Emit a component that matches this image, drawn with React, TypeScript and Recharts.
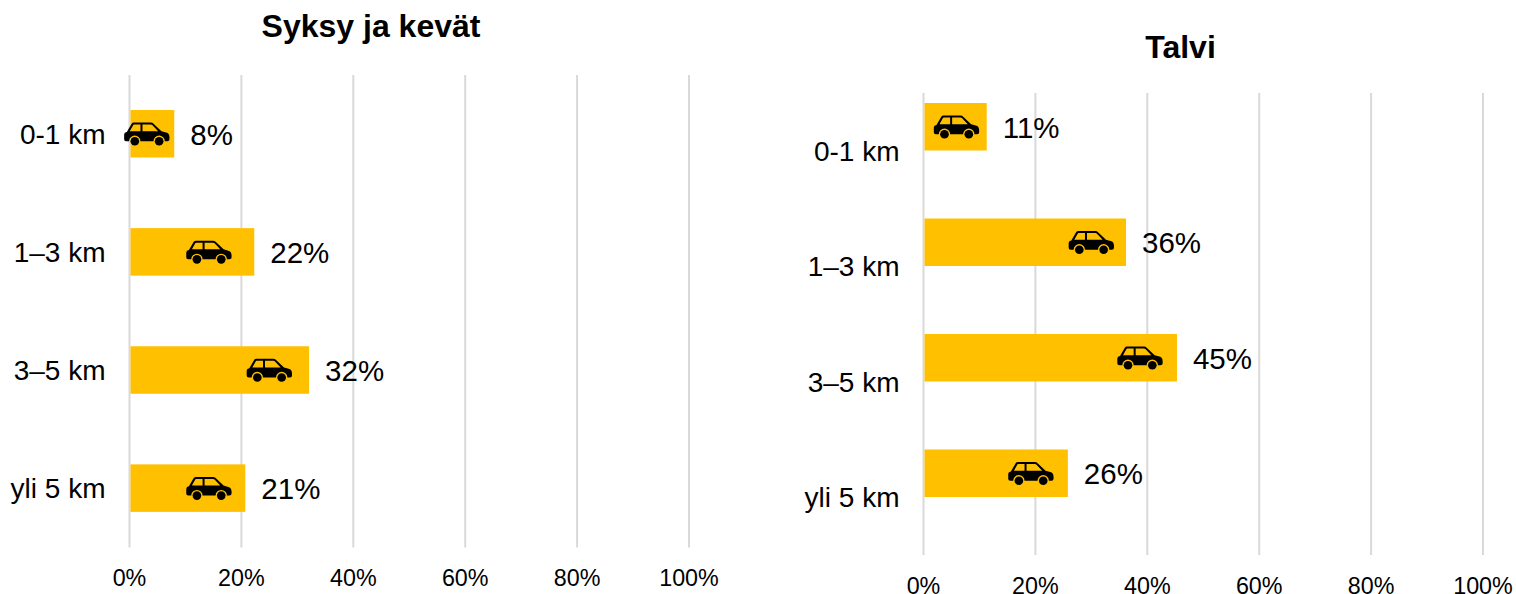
import { BarChart, Bar, XAxis, YAxis, CartesianGrid, LabelList } from "recharts";

const distances = ["0-1 km", "1–3 km", "3–5 km", "yli 5 km"];
const percentTicks = [0, 20, 40, 60, 80, 100];

const autumnSpringShare = [8, 22.3, 32.1, 20.7];
const autumnSpringCar = [3.1, 14.2, 25, 14.2];
const winterShare = [11.3, 36.2, 45.3, 25.8];
const winterCar = [5.9, 30, 38.7, 19.2];

const FONT = "'Liberation Sans', Arial, sans-serif";
const BAR_HEIGHT = 47.5;

const toRows = (share: number[], car: number[]) =>
  distances.map((name, i) => ({ name, share: share[i], car: car[i] }));

// car silhouette, drawn in a 136x67 box; the windows and wheel arches are holes
const CAR_BODY =
  "M8 28 L22 4 Q24 0 30 0 L80 0 Q85 0 89 4 L112 26 L126 30 Q136 32 136 44 L136 50 Q136 56 130 56 L122 56 A17 17 0 0 0 88 56 L49 56 A17 17 0 0 0 15 56 L6 56 Q0 56 0 50 L0 36 Q0 29 8 28 Z " +
  "M17 26 L27 8 Q28 6 30 6 L49 6 L49 26 Z M55 6 L80 6 Q83 6 85 8 L102 26 L55 26 Z";

function CarIcon({ cx, cy }: { cx: number; cy: number }) {
  return (
    <g transform={`translate(${cx - 22.7} ${cy - 11.2}) scale(0.3333)`} fill="#000">
      <path d={CAR_BODY} fillRule="evenodd" />
      <circle cx={32} cy={56} r={13} />
      <circle cx={105} cy={56} r={13} />
    </g>
  );
}

function DistanceChart({
  title,
  rows,
  left,
  plotLeft,
  plotTop,
  plotBottom,
  barShift,
  titleTop,
  titleCenter,
}: {
  title: string;
  rows: { name: string; share: number; car: number }[];
  left: number;
  plotLeft: number;
  plotTop: number;
  plotBottom: number;
  barShift: number;
  titleTop: number;
  titleCenter: number;
}) {
  const width = 758;
  const height = 594;
  const plotWidth = 559.5;

  return (
    <div style={{ position: "absolute", left, top: 0, width, height }}>
      <div
        style={{
          position: "absolute",
          left: titleCenter - 200,
          width: 400,
          top: titleTop,
          textAlign: "center",
          fontFamily: FONT,
          fontWeight: 700,
          fontSize: 32,
          lineHeight: "36px",
          color: "#000",
        }}
      >
        {title}
      </div>
      <BarChart
        width={width}
        height={height}
        data={rows}
        layout="vertical"
        barSize={BAR_HEIGHT}
        barGap={-BAR_HEIGHT}
        margin={{ top: plotTop, bottom: 0, left: 0, right: width - plotLeft - plotWidth }}
      >
        <CartesianGrid horizontal={false} stroke="#d9d9d9" strokeWidth={2} />
        <XAxis
          type="number"
          domain={[0, 100]}
          ticks={percentTicks}
          tickFormatter={(v: number) => `${v}%`}
          height={height - plotBottom}
          axisLine={false}
          tickLine={false}
          tickMargin={16}
          interval={0}
          tick={{ fill: "#000", fontSize: 23.3, fontFamily: FONT }}
        />
        <YAxis
          type="category"
          dataKey="name"
          width={plotLeft}
          axisLine={false}
          tickLine={false}
          tickSize={0}
          tickMargin={24}
          tick={{ fill: "#000", fontSize: 28, fontFamily: FONT }}
        />
        <Bar
          dataKey="share"
          isAnimationActive={false}
          shape={(p: any) => (
            <rect x={p.x + 1} y={p.y + barShift} width={p.width - 1} height={p.height} fill="#FFC000" />
          )}
        >
          <LabelList
            dataKey="share"
            content={(p: any) => (
              <text
                x={p.x + p.width + 16}
                y={p.y + p.height / 2 + barShift + 0.5}
                dominantBaseline="central"
                fill="#000"
                fontSize={29.5}
                fontFamily={FONT}
              >
                {Math.round(p.value)}%
              </text>
            )}
          />
        </Bar>
        <Bar
          dataKey="car"
          isAnimationActive={false}
          shape={(p: any) => <CarIcon cx={p.x + p.width} cy={p.y + p.height / 2 + barShift} />}
        />
      </BarChart>
    </div>
  );
}

export default function App() {
  return (
    <div style={{ position: "absolute", left: 0, top: 0, width: 1516, height: 594, background: "#fff", overflow: "hidden" }}>
      <DistanceChart
        title="Syksy ja kevät"
        rows={toRows(autumnSpringShare, autumnSpringCar)}
        left={0}
        plotLeft={129.5}
        plotTop={75}
        plotBottom={547.5}
        barShift={0}
        titleTop={8}
        titleCenter={371}
      />
      <DistanceChart
        title="Talvi"
        rows={toRows(winterShare, winterCar)}
        left={758}
        plotLeft={165.5}
        plotTop={93}
        plotBottom={555}
        barShift={-24}
        titleTop={29}
        titleCenter={422.5}
      />
    </div>
  );
}
